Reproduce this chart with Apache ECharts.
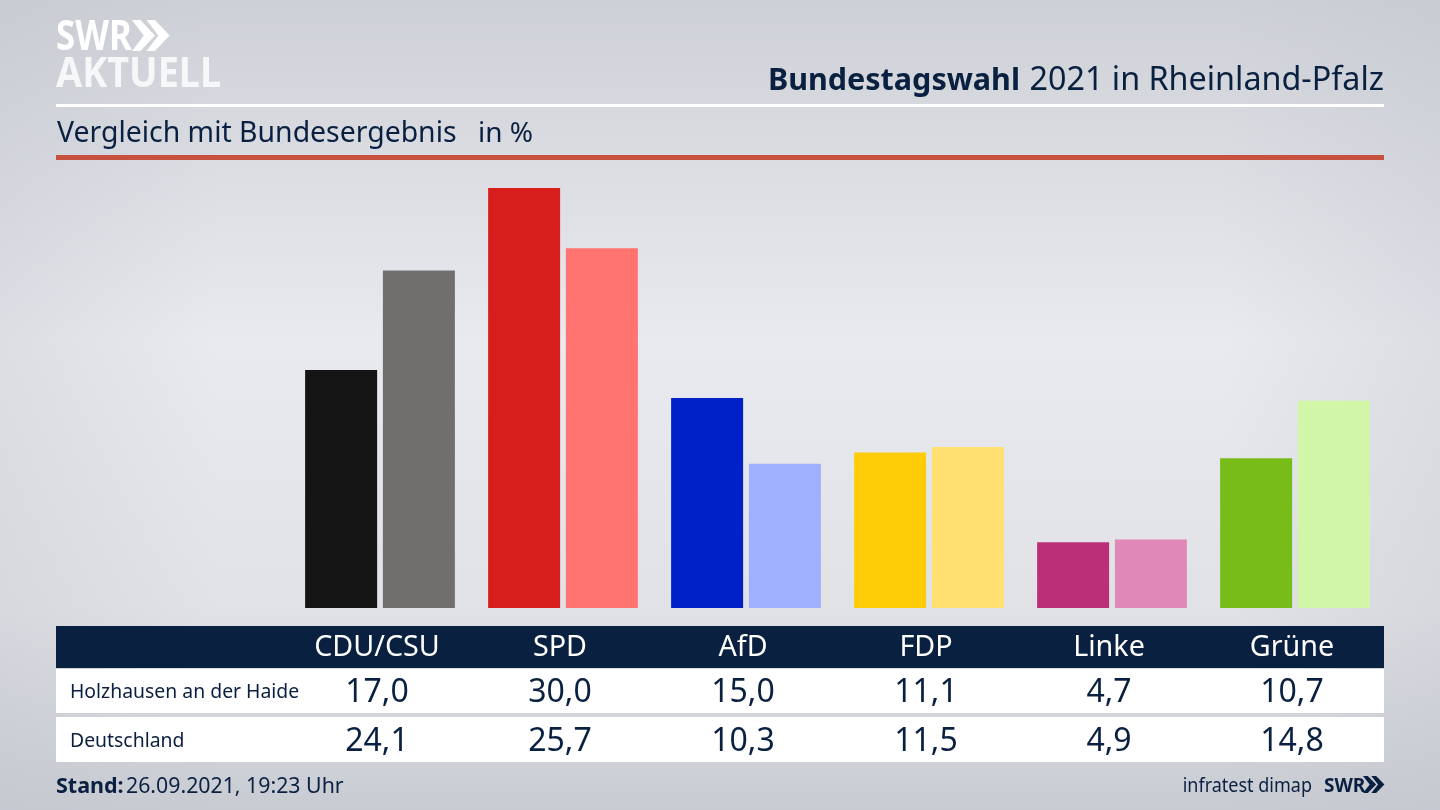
<!DOCTYPE html>
<html>
<head>
<meta charset="utf-8">
<title>Bundestagswahl 2021</title>
<script src="https://cdn.jsdelivr.net/npm/echarts@6/dist/echarts.min.js"></script>
<style>
  html, body { margin: 0; padding: 0; background: #d8dade; }
  #chart { width: 1440px; height: 810px; }
</style>
</head>
<body>
<div id="chart"></div>
<script>
var parties = ['CDU/CSU', 'SPD', 'AfD', 'FDP', 'Linke', 'Grüne'];
var holzhausen = [17.0, 30.0, 15.0, 11.1, 4.7, 10.7];
var deutschland = [24.1, 25.7, 10.3, 11.5, 4.9, 14.8];
var holzhausenColors = ['#141414', '#d81e1c', '#0020c8', '#ffcc08', '#bb2f78', '#78bc1a'];
var deutschlandColors = ['#706f6d', '#ff7370', '#9fb0ff', '#ffe070', '#e088b8', '#d2f6a8'];

var navy = '#0a2040';
var font = '"Noto Sans", sans-serif';

function komma(v) {
  return v.toFixed(1).replace('.', ',');
}

function bars(values, colors) {
  return values.map(function (v, i) {
    return { value: v, itemStyle: { color: colors[i] } };
  });
}

// beschriftung unter den balken: eine achse pro tabellenzeile
function labelAxis(data, offset, size, color, gridIndex) {
  return {
    type: 'category',
    gridIndex: gridIndex,
    position: 'bottom',
    offset: offset,
    data: data,
    axisLine: { show: false },
    axisTick: { show: false },
    splitLine: { show: false },
    axisLabel: {
      show: offset > 0,
      interval: 0,
      margin: 0,
      color: color,
      fontFamily: font,
      fontSize: size,
      verticalAlign: 'middle'
    }
  };
}

function txt(x, y, text, size, weight, align, color, scaleX) {
  return {
    type: 'text',
    x: x,
    y: y,
    z: 5,
    scaleX: scaleX || 1,
    style: {
      text: text,
      fill: color || navy,
      font: (weight || 'normal') + ' ' + size + 'px ' + font,
      align: align || 'left',
      verticalAlign: 'middle'
    }
  };
}

function box(x, y, w, h, color) {
  return { type: 'rect', z: -5, shape: { x: x, y: y, width: w, height: h }, style: { fill: color } };
}

function chevrons(x, y, w, h, color) {
  var out = [];
  [0, w * 0.52].forEach(function (dx) {
    out.push({
      type: 'polygon',
      z: 5,
      shape: { points: [
        [x + dx, y], [x + dx + w * 0.3, y], [x + dx + w * 0.82, y + h / 2],
        [x + dx + w * 0.3, y + h], [x + dx, y + h], [x + dx + w * 0.42, y + h / 2]
      ] },
      style: { fill: color }
    });
  });
  return out;
}

var background = [
  {
    type: 'rect', z: -10,
    shape: { x: 0, y: 0, width: 1440, height: 810 },
    style: { fill: new echarts.graphic.LinearGradient(0, 0, 0, 1, [
      { offset: 0, color: '#cdd0d6' },
      { offset: 0.42, color: '#e9eaef' },
      { offset: 0.75, color: '#e0e2e6' },
      { offset: 1, color: '#c8cbd2' }
    ]) }
  },
  {
    type: 'rect', z: -9,
    shape: { x: 0, y: 0, width: 1440, height: 810 },
    style: { fill: new echarts.graphic.LinearGradient(0, 0, 1, 0, [
      { offset: 0, color: 'rgba(190,194,202,0.3)' },
      { offset: 0.15, color: 'rgba(190,194,202,0)' },
      { offset: 0.85, color: 'rgba(190,194,202,0)' },
      { offset: 1, color: 'rgba(190,194,202,0.3)' }
    ]) }
  }
];

var frame = [
  box(56, 104, 1328, 3, '#ffffff'),
  box(56, 155, 1328, 5, '#c8503f'),
  box(56, 626, 1328, 42, navy),
  box(56, 669, 1328, 44, '#ffffff'),
  box(56, 717, 1328, 45, '#ffffff')
];

var texts = [
  txt(56, 38, 'SWR', 42, 'bold', 'left', '#ffffff', 0.83),
  txt(56, 75, 'AKTUELL', 42, 'bold', 'left', '#f6f7f8', 0.9),
  txt(1020, 81, 'Bundestagswahl', 30.5, 'bold', 'right'),
  txt(1384, 81, '2021 in Rheinland-Pfalz', 32.3, 'normal', 'right'),
  txt(57, 134, 'Vergleich mit Bundesergebnis', 28.4),
  txt(478, 134, 'in %', 28),
  txt(70, 692, 'Holzhausen an der Haide', 19.4),
  txt(70, 741, 'Deutschland', 19.4),
  txt(56, 787, 'Stand:', 21.5, 'bold'),
  txt(126, 787, '26.09.2021, 19:23 Uhr', 21.3),
  txt(1312, 786, 'infratest dimap', 20, 'normal', 'right', navy, 0.9),
  txt(1324, 786, 'SWR', 20, 'bold', 'left', navy, 0.95)
];

var myChart = echarts.init(document.getElementById('chart'));

var option = {
  animation: false,
  grid: [
    // balken sitzen 3px rechts von den spaltenmitten der tabelle
    { left: 288.5, right: 53.5, top: 188, bottom: 202 },
    { left: 285.5, right: 56.5, top: 188, bottom: 202 }
  ],
  xAxis: [
    labelAxis(parties, 0, 28, navy, 0),
    labelAxis(parties, 40, 28.7, '#ffffff', 1),
    labelAxis(holzhausen.map(komma), 85, 32, navy, 1),
    labelAxis(deutschland.map(komma), 134, 32, navy, 1)
  ],
  yAxis: [
    { type: 'value', gridIndex: 0, min: 0, max: 30, show: false },
    { type: 'value', gridIndex: 1, min: 0, max: 30, show: false }
  ],
  graphic: background.concat(frame, texts, chevrons(132, 20, 28, 31, '#ffffff'), chevrons(1363, 776, 16, 17, navy)),
  series: [
    {
      name: 'Holzhausen an der Haide',
      type: 'bar',
      xAxisIndex: 0,
      yAxisIndex: 0,
      barWidth: 72,
      barGap: '8%',
      data: bars(holzhausen, holzhausenColors)
    },
    {
      name: 'Deutschland',
      type: 'bar',
      xAxisIndex: 0,
      yAxisIndex: 0,
      barWidth: 72,
      data: bars(deutschland, deutschlandColors)
    }
  ]
};

myChart.setOption(option);
</script>
</body>
</html>
